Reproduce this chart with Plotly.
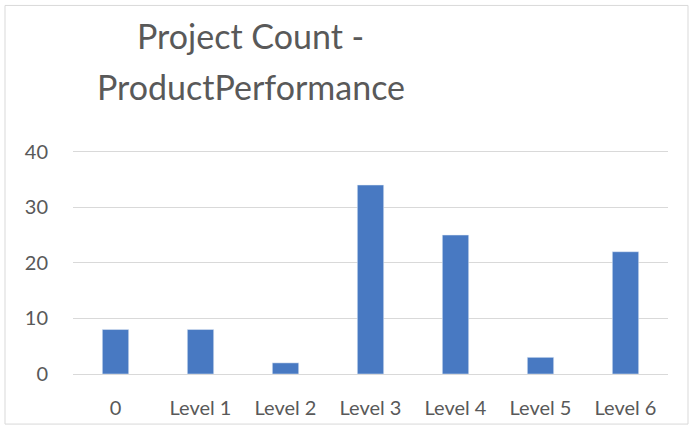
import plotly.graph_objects as go

categories = ["0", "Level 1", "Level 2", "Level 3", "Level 4", "Level 5", "Level 6"]
counts = [8, 8, 2, 34, 25, 3, 22]
y_ticks = [0, 10, 20, 30, 40]
title_lines = ["Project Count -", "ProductPerformance"]

W, H = 693, 432
plot_left, plot_right, plot_top, plot_bottom = 73, 668, 152, 374
Y_MAX = 40.3
# put the 40 grid line exactly at plot_top
top_px = plot_bottom - (plot_bottom - plot_top) * Y_MAX / 40
L, R, T, B = plot_left, W - plot_right, top_px, H - plot_bottom
pw, ph = W - L - R, H - T - B

def px_x(x):
    return (x - L) / pw

def px_y(y):
    return (H - B - y) / ph

fig = go.Figure(go.Bar(x=categories, y=counts, marker_color="#4879C2", width=0.31))

fig.update_layout(
    width=W, height=H,
    margin=dict(l=L, r=R, t=T, b=B, autoexpand=False),
    paper_bgcolor="white", plot_bgcolor="white",
    font=dict(family="Lato", color="#595959", size=20),
    showlegend=False,
    xaxis=dict(showgrid=False, showline=False, ticks="", ticklabelstandoff=20),
    yaxis=dict(range=[0, Y_MAX], tickvals=y_ticks, showgrid=True, gridcolor="#D9D9D9",
               gridwidth=1, zeroline=True, zerolinecolor="#D9D9D9", zerolinewidth=1,
               showline=False, ticks="", ticklabelstandoff=24),
    shapes=[dict(type="rect", xref="paper", yref="paper",
                 x0=px_x(5), x1=px_x(688), y0=px_y(424), y1=px_y(6),
                 line=dict(color="#D9D9D9", width=1), layer="below")],
    annotations=[
        dict(text=title_lines[0], xref="paper", yref="paper", x=px_x(250), y=px_y(58),
             xanchor="center", yanchor="bottom", showarrow=False,
             font=dict(family="Lato", size=34, color="#595959")),
        dict(text=title_lines[1], xref="paper", yref="paper", x=px_x(251), y=px_y(109),
             xanchor="center", yanchor="bottom", showarrow=False,
             font=dict(family="Lato", size=34, color="#595959")),
    ],
)

fig.write_html("out.html", config={"displayModeBar": False},
               post_script="document.body.style.margin='0px';")
